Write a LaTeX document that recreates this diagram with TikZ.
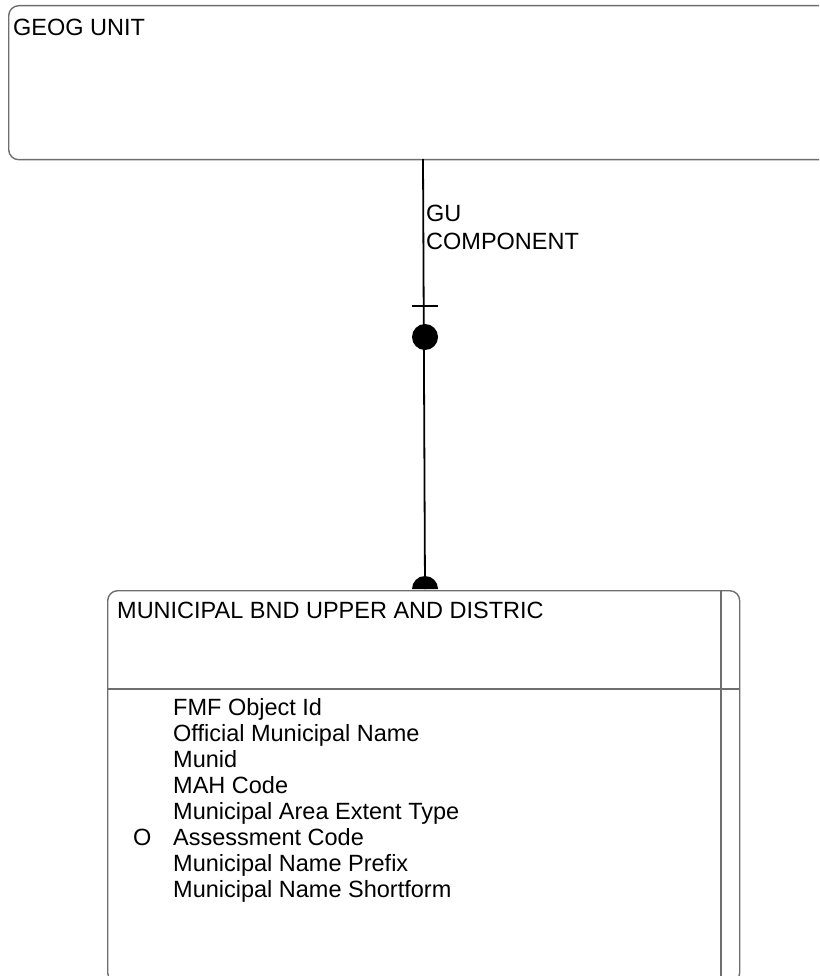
\documentclass[tikz,border=0pt]{standalone}
\usepackage{fontspec}
\setmainfont{Liberation Sans}
\begin{document}
\begin{tikzpicture}[x=1pt,y=-1pt,
  boxline/.style={draw={rgb,255:red,110;green,110;blue,110}, line width=1.4pt},
  ent/.style={boxline, rounded corners=10pt, rectangle, inner sep=0pt, anchor=north west},
  txt/.style={anchor=base west, inner sep=0pt, font=\fontsize{23.5}{26}\selectfont},
  rel/.style={draw=black, line width=1.8pt}]
\useasboundingbox (0,0) rectangle (819,976);
\clip (0,0) rectangle (819,976);
% top entity
\node[ent, minimum width=830pt, minimum height=154pt] (geog) at (8,5) {};
\node[txt] (geogt) at (13,36) {GEOG UNIT};
% bottom entity
\node[ent, minimum width=632pt, minimum height=392pt] (muni) at (107,590) {};
\coordinate (divl) at (107,689);
\coordinate (divr) at (739,689);
\draw[boxline] (divl) -- (divr);
\coordinate (vt) at (721,590);
\coordinate (vb) at (721,985);
\draw[boxline] (vt) -- (vb);
\node[txt] (munit) at (117,618) {MUNICIPAL BND UPPER AND DISTRIC};
\node[txt] (a1) at (173,715) {FMF Object Id};
\node[txt] (a2) at (173,741) {Official Municipal Name};
\node[txt] (a3) at (173,767) {Munid};
\node[txt] (a4) at (173,793) {MAH Code};
\node[txt] (a5) at (173,819) {Municipal Area Extent Type};
\node[txt] (a6) at (173,845) {Assessment Code};
\node[txt] (ao) at (133,845) {O};
\node[txt] (a7) at (173,871) {Municipal Name Prefix};
\node[txt] (a8) at (173,897) {Municipal Name Shortform};
% relationship
\coordinate (rtop) at (423,159);
\coordinate (rbot) at (425,589);
\draw[rel] (rtop) -- (rbot);
\coordinate (tl) at (412,306);
\coordinate (tr) at (438,306);
\draw[line width=1.2pt] (tl) -- (tr);
\coordinate (dot) at (425,337);
\fill (dot) circle (13pt);
\fill (rbot) ++(-13,0) arc[start angle=180, end angle=0, radius=13pt] -- cycle;
\node[txt] (lab1) at (426,222) {GU};
\node[txt] (lab2) at (426,249) {COMPONENT};
\end{tikzpicture}
\end{document}
